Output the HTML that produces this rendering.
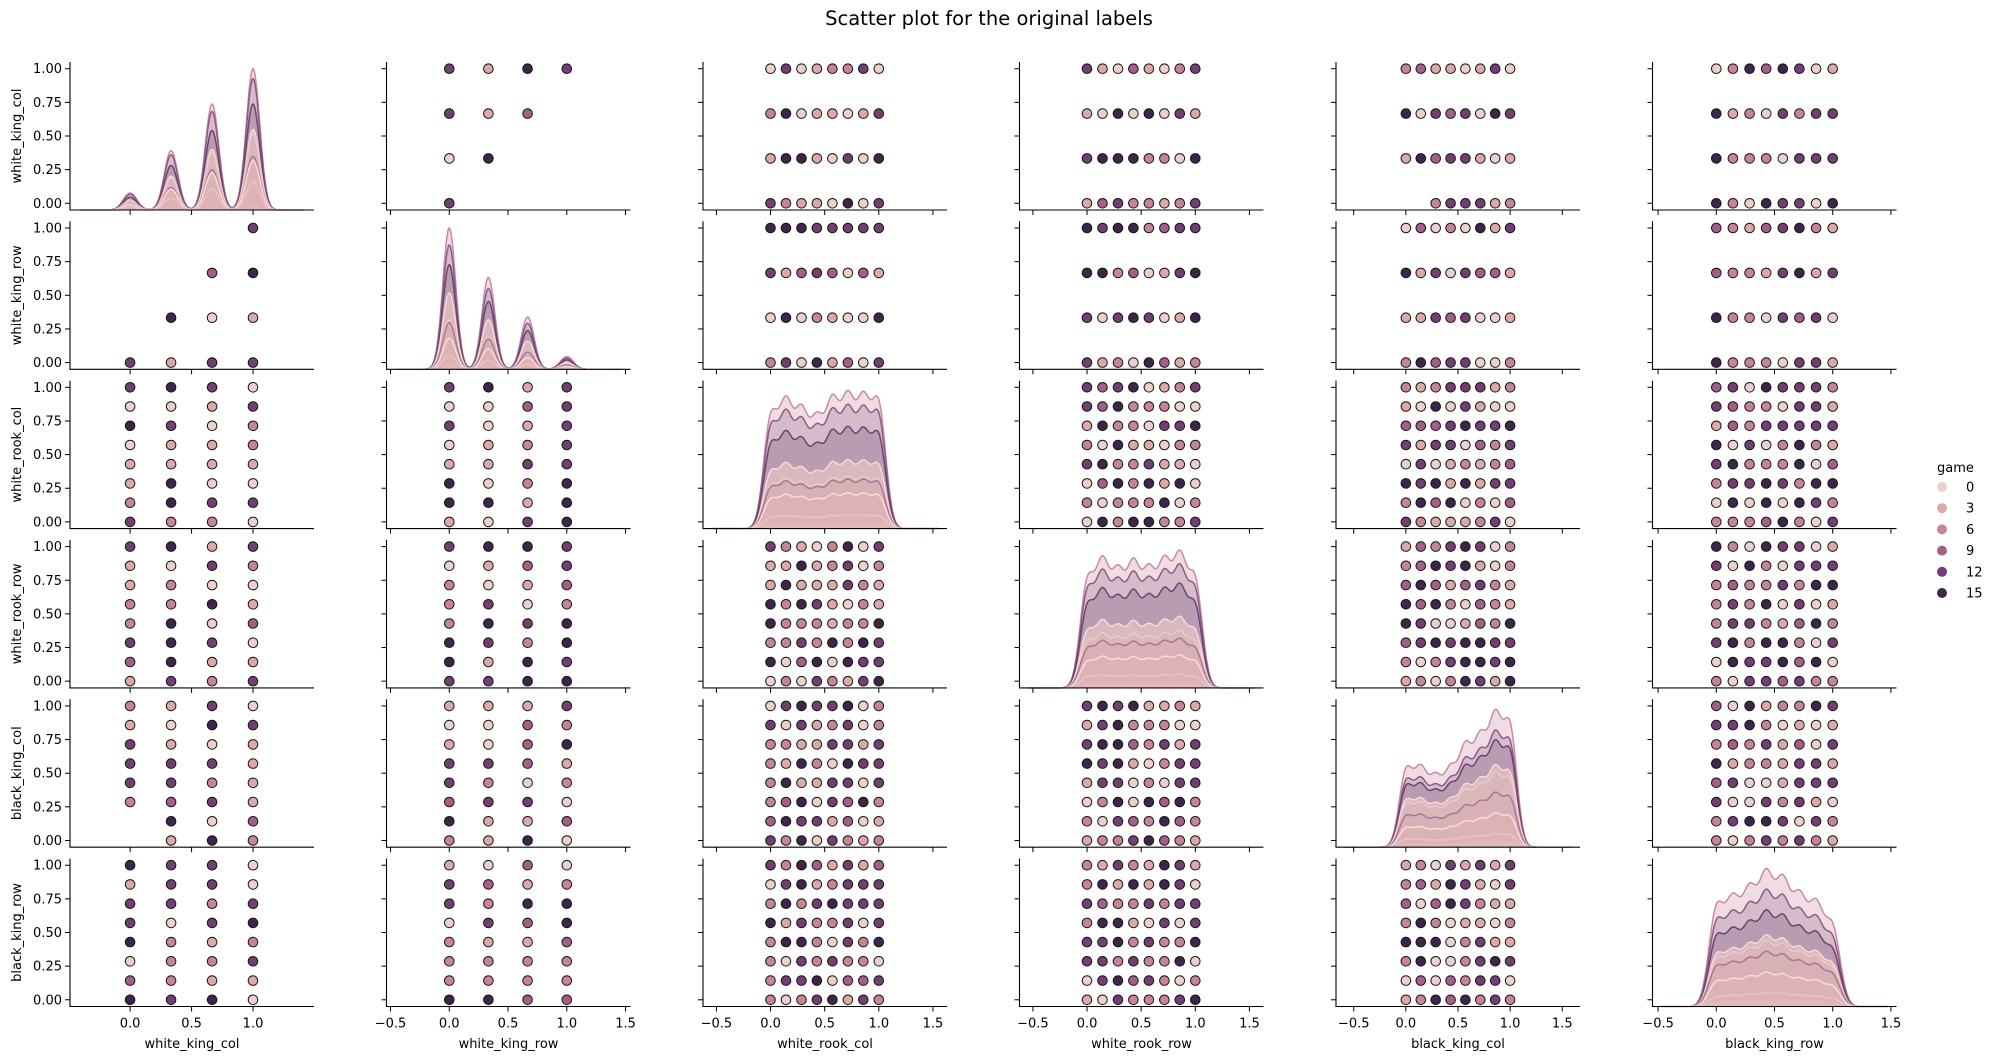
<!DOCTYPE html>
<html><head><meta charset="utf-8"><title>Scatter plot for the original labels</title>
<style>
html,body{margin:0;padding:0;background:#fff;}
svg{display:block;font-family:"DejaVu Sans","Liberation Sans",sans-serif;}
</style></head>
<body>
<svg id="chart" width="1997" height="1060" viewBox="0 0 1997 1060" xmlns="http://www.w3.org/2000/svg">
<text x="989" y="25" text-anchor="middle" font-size="19.5" fill="#000">Scatter plot for the original labels</text>
<g id="panels"></g>
<g id="legend"></g>
</svg>
<script>
const vars = ["white_king_col","white_king_row","white_rook_col","white_rook_row","black_king_col","black_king_row"];
const levels4 = [0, 1/3, 2/3, 1];
const levels8 = [0, 1/7, 2/7, 3/7, 4/7, 5/7, 6/7, 1];
const legendGames = [0, 3, 6, 9, 12, 15];
const hueCodes = "abcdef";
const yTicks = [0, 0.25, 0.5, 0.75, 1];
const yTickLabels = ["0.00","0.25","0.50","0.75","1.00"];
const xTicksFirst = [0, 0.5, 1];
const xTickLabelsFirst = ["0.0","0.5","1.0"];
const xTicksOther = [-0.5, 0, 0.5, 1, 1.5];
const xTickLabelsOther = ["\u22120.5","0.0","0.5","1.0","1.5"];

// scatter hue grids: rows from y=1 (top) down to y=0; chars per x level; '.' = no point
const r1c2 = ["ebfe","ebd.","af..","e..."];
const r1c3 = ["aeabccea","cfabbabe","bffbaeaf","ecbbafae"];
const r1c4 = ["ebadbace","bafafaeb","efffccaf","bdeccbce"];
const r1c5 = ["cdbbabea","faedeafe","bfdeebab","..ceeebc"];
const r1c6 = ["acfdfeab","fbcaecee","fcccaeee","fcafeeaf"];
const r2c1 = ["...e","..df",".fab","ebee"];
const r2c3 = ["fffeeeee","ebdedadb","afacbaaf","ceafbdae"];
const r2c4 = ["feffcdee","ffcdabef","eaefeabf","ebcafdbc"];
const r2c5 = ["adacafbe","fbeaeddb","bbedeaab","cfdeeaac"];
const r2c6 = ["dcbdefcb","dccbefbe","fccaedea","fcccaeeb"];
const r3c1 = ["efea","aabe","feac","abbc","bbbb","bfaa","cfee","ecca"];
const r3c2 = ["efbe","aade","eabe","abce","bbee","facf","ffbf","baef"];
const r3c4 = ["edefabce","edfcccaa","bfccaeef","cafbbacc","efccebba","adfcfbfa","cacccfac","afcffcce"];
const r3c5 = ["cbceeebc","bafaebaa","dddefeef","ebeeadce","aeabcbcd","fefbfbee","cfdfacad","ecbbbcea"];
const r3c6 = ["deafeeec","edccaeeb","bdceeeee","faeacfcb","efcccfad","ceefecff","afafafec","cccdfcae"];
const r4c1 = ["efbe","baec","bcaa","ccfb","cfad","efea","dfbb","bece"];
const r4c2 = ["effe","abde","cabd","ceac","cfef","fecf","fbfe","eeff"];
const r4c3 = ["ecbacfae","bbfbceac","bfbbbecb","fcfebacb","fcccbccf","ccecfcfe","fadfafee","acaecbef"];
const r4c5 = ["bdcefeac","cdfefbac","dfdbdecb","fdfcadcb","feaabdcf","defeffee","caceffef","bcacfebf"];
const r4c6 = ["fcafeeab","eafcaeee","cdccecff","cecfaeab","ceecbdfc","efcffcae","afeefdfa","caeedecc"];
const r5c1 = ["cbea","bafe","ebab","eeeb","eecb","cdeb",".fad",".bfc"];
const r5c2 = ["bbbe","aadc","badf","eedb","ecac","deea","fbbd","cbfa"];
const r5c3 = ["aefeefac","eaebceac","ccbbeebe","cbfcafee","cfbbeeae","cdfaedfc","dfeebdab","ecfaecbc"];
const r5c4 = ["efefbbcb","befcccaa","effdcebe","fefbacee","beeacaee","acfafdfc","caedcfdc","bccefdcb"];
const r5c6 = ["dafbccfe","eefcabab","cdcebdae","fbccbeeb","deaabeee","eaaeceba","ceffeaec","cacececb"];
const r6c1 = ["feea","beea","eece","eaef","fcbc","acce","dcbb","fefa"];
const r6c2 = ["bada","edbc","ecff","aedf","cbbd","cccc","cccc","ffdd"];
const r6c3 = ["ecfdbebd","aefbceee","cfcefeee","fbecceae","cffcaecf","caececca","ceefadde","cacefbec"];
const r6c4 = ["cbecbfeb","cfbfbfea","edccecee","cffbaeae","eefceccf","eececcfa","aefdecac","baecccef"];
const r6c5 = ["bcaebebe","cdbfebae","dadfecbb","cfcabbac","fffacebb","cfaacefe","adadceea","bcfdfcec"];

// diagonal KDE peak heights per level (fraction of the 1.00 tick)
const kde1Peaks = [0.12, 0.42, 0.75, 1.0];
const kde2Peaks = [1.0, 0.65, 0.37, 0.09];
const kde3Peaks = [0.88, 0.95, 0.88, 0.81, 0.96, 0.98, 0.97, 0.99];
const kde4Peaks = [0.84, 0.95, 0.86, 0.93, 0.87, 0.94, 0.99, 0.85];
const kde5Peaks = [0.61, 0.59, 0.52, 0.58, 0.76, 0.82, 0.99, 0.96];
const kde6Peaks = [0.78, 0.80, 0.87, 0.99, 0.94, 0.82, 0.77, 0.63];
// layered hue curve fractions of top envelope
const kde1Layers = [1.0, 0.93, 0.75, 0.57, 0.54, 0.38, 0.35, 0.2, 0.03];
const kde2Layers = [1.0, 0.88, 0.74, 0.54, 0.35, 0.33, 0.22, 0.1, 0.03];
const kde3Layers = [1.0, 0.9, 0.74, 0.5, 0.38, 0.36, 0.26, 0.1, 0.04];
const kde4Layers = [1.0, 0.9, 0.76, 0.52, 0.42, 0.36, 0.24, 0.1, 0.04];
const kde5Layers = [1.0, 0.85, 0.78, 0.6, 0.55, 0.4, 0.25, 0.1, 0.05];
const kde6Layers = [1.0, 0.85, 0.7, 0.52, 0.48, 0.4, 0.25, 0.1, 0.05];

const hueColors = {a:"#ecd0cb", b:"#dca8a8", c:"#c6849b", d:"#a35f8a", e:"#713f72", f:"#3d2649"};
const layerFills = ["#efdde3","#d5bccb","#b99cb1","#d9b8bf","#dbb7bb","#d8b0b6","#dcb2b5","#dfb3b5","#e2b9b8"];
const layerLines = ["#c98aa3","#8e5b87","#6b4471","#f3dad6","#ecc9c7","#a87795","#f5ddd8","#e9c3c1","#e0b6b6"];

const NS = "http://www.w3.org/2000/svg";
const colLeft = i => 70 + 316.5 * i;
const rowTop = j => 62 + 159.3 * j;
const W = 244, H = 148;
const xlims = [[-0.489,1.496],[-0.534,1.542],[-0.624,1.63],[-0.624,1.63],[-0.67,1.67],[-0.548,1.548]];
const ylim = [-0.05, 1.05];
const grids = {
 "0-1":r1c2,"0-2":r1c3,"0-3":r1c4,"0-4":r1c5,"0-5":r1c6,
 "1-0":r2c1,"1-2":r2c3,"1-3":r2c4,"1-4":r2c5,"1-5":r2c6,
 "2-0":r3c1,"2-1":r3c2,"2-3":r3c4,"2-4":r3c5,"2-5":r3c6,
 "3-0":r4c1,"3-1":r4c2,"3-2":r4c3,"3-4":r4c5,"3-5":r4c6,
 "4-0":r5c1,"4-1":r5c2,"4-2":r5c3,"4-3":r5c4,"4-5":r5c6,
 "5-0":r6c1,"5-1":r6c2,"5-2":r6c3,"5-3":r6c4,"5-4":r6c5
};
const kdePeaks = [kde1Peaks,kde2Peaks,kde3Peaks,kde4Peaks,kde5Peaks,kde6Peaks];
const kdeLayers = [kde1Layers,kde2Layers,kde3Layers,kde4Layers,kde5Layers,kde6Layers];

function mk(tag, attrs, parent){
  const e = document.createElementNS(NS, tag);
  for (const k in attrs) e.setAttribute(k, attrs[k]);
  parent.appendChild(e);
  return e;
}
const levelsOf = v => (v < 2 ? levels4 : levels8);
const root = document.getElementById("panels");

for (let r = 0; r < 6; r++) {
  for (let c = 0; c < 6; c++) {
    const x0 = colLeft(c), y0 = rowTop(r), xl = xlims[c];
    const sx = v => x0 + (v - xl[0]) / (xl[1] - xl[0]) * W;
    const sy = v => y0 + H - (v - ylim[0]) / (ylim[1] - ylim[0]) * H;
    const g = mk("g", {}, root);
    
    

    if (r === c) {
      const peaks = kdePeaks[r], lv = levelsOf(r), layers = kdeLayers[r];
      const sig = lv.length === 4 ? 0.055 : 0.065, h = lv[1] - lv[0];
      let S = 0;
      for (let j = -(lv.length - 1); j < lv.length; j++) S += Math.exp(-(j*h)*(j*h)/(2*sig*sig));
      const dens = x => { let s = 0; for (let k = 0; k < lv.length; k++) s += peaks[k] * Math.exp(-(x-lv[k])*(x-lv[k])/(2*sig*sig)); return s / S; };
      const ky = v => y0 + H - v * (H - 6.7);
      const xa = xl[0] + 0.08, xb = xl[1] - 0.08, N = 260;
      for (let L = 0; L < layers.length; L++) {
        let pts = [];
        for (let i = 0; i <= N; i++) { const x = xa + (xb - xa) * i / N; pts.push(sx(x).toFixed(1) + "," + ky(layers[L] * dens(x)).toFixed(1)); }
        const area = mk("polygon", {points: sx(xa).toFixed(1)+","+ky(0)+" "+pts.join(" ")+" "+sx(xb).toFixed(1)+","+ky(0), fill: layerFills[L], stroke: "none"}, g);
        
        
        const line = mk("polyline", {points: pts.join(" "), fill: "none", stroke: layerLines[L], "stroke-width": 1.5}, g);
        
        
      }
    } else {
      const grid = grids[r + "-" + c];
      const xl4 = levelsOf(c), yl4 = levelsOf(r);
      for (let yi = 0; yi < grid.length; yi++) {
        const yv = yl4[yl4.length - 1 - yi];
        for (let xi = 0; xi < grid[yi].length; xi++) {
          const ch = grid[yi][xi];
          if (!hueColors[ch]) continue;
          const pt = mk("circle", {cx: sx(xl4[xi]).toFixed(1), cy: sy(yv).toFixed(1), r: 4.8, fill: hueColors[ch], stroke: "#151515", "stroke-width": 1}, g);
          
          
        }
      }
    }
    const sp = mk("path", {d: `M${x0},${y0} V${y0+H} H${x0+W}`, fill: "none", stroke: "#000", "stroke-width": 1.1}, g);
    
    
    for (let t = 0; t < yTicks.length; t++) {
      const yy = sy(yTicks[t]);
      mk("line", {x1: x0 - 5, x2: x0, y1: yy, y2: yy, stroke: "#000", "stroke-width": 1}, g);
      if (c === 0) {
        const tl = mk("text", {x: x0 - 8, y: yy + 4.5, "text-anchor": "end", "font-size": 13, fill: "#000"}, g);
        tl.textContent = yTickLabels[t];
        
        
      }
    }
    const xt = c === 0 ? xTicksFirst : xTicksOther, xtl = c === 0 ? xTickLabelsFirst : xTickLabelsOther;
    for (let t = 0; t < xt.length; t++) {
      const xx = sx(xt[t]);
      mk("line", {x1: xx, x2: xx, y1: y0 + H, y2: y0 + H + 5, stroke: "#000", "stroke-width": 1}, g);
      if (r === 5) {
        const tl = mk("text", {x: xx, y: y0 + H + 21, "text-anchor": "middle", "font-size": 13, fill: "#000"}, g);
        tl.textContent = xtl[t];
        
        
      }
    }
    if (r === 5) {
      const xlab = mk("text", {x: x0 + W/2, y: 1048, "text-anchor": "middle", "font-size": 13, fill: "#000"}, g);
      xlab.textContent = vars[c];
      
      
    }
    if (c === 0) {
      const cy = y0 + H/2;
      const ylab = mk("text", {x: 0, y: 0, transform: `translate(21,${cy}) rotate(-90)`, "text-anchor": "middle", "font-size": 13, fill: "#000"}, g);
      ylab.textContent = vars[r];
      
      
    }
  }
}

const lg = document.getElementById("legend");
const lt = mk("text", {x: 1937, y: 472, "font-size": 13, fill: "#000"}, lg);
lt.textContent = "game";


for (let i = 0; i < legendGames.length; i++) {
  const yy = 487 + 21.2 * i;
  const ent = mk("g", {}, lg);
  
  
  mk("circle", {cx: 1942, cy: yy, r: 5, fill: hueColors[hueCodes[i]]}, ent);
  const tx = mk("text", {x: 1966, y: yy + 4.5, "font-size": 13, fill: "#000"}, ent);
  tx.textContent = String(legendGames[i]);
}
</script>
</body></html>
